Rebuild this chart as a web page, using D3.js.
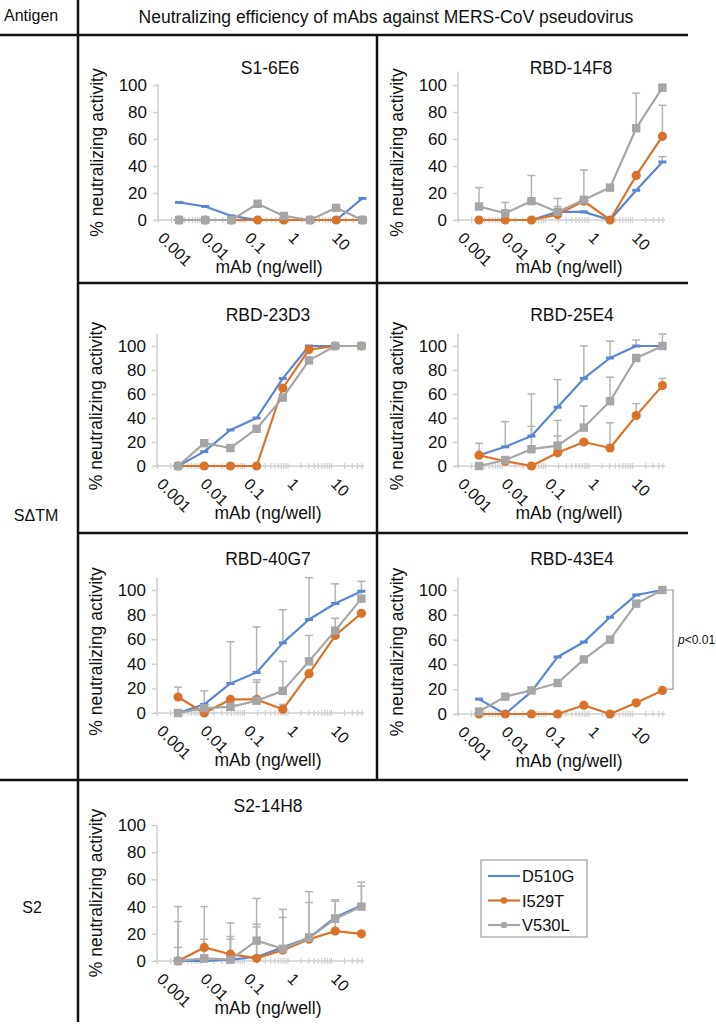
<!DOCTYPE html>
<html><head><meta charset="utf-8">
<script src="https://cdn.jsdelivr.net/npm/d3@7"></script>
<style>
body{margin:0;background:#fff}
svg{display:block}
text{font-family:"Liberation Sans",Arial,sans-serif;fill:#111}
</style>
</head><body>
<svg id="c" width="716" height="1031"></svg>
<script>
// ---------- data ----------
const doses = [0.00305, 0.0122, 0.0488, 0.195, 0.781, 3.125, 12.5, 50];
const seriesNames = ["D510G", "I529T", "V530L"];
const xTickLabels = [0.001, 0.01, 0.1, 1, 10];
const yTickValues = [0, 20, 40, 60, 80, 100];
const panelTitles = ["S1-6E6", "RBD-14F8", "RBD-23D3", "RBD-25E4", "RBD-40G7", "RBD-43E4", "S2-14H8"];
const antigenLabels = ["SΔTM", "S2"];

// mean % neutralizing activity [D510G, I529T, V530L]
const mean_S1_6E6  = [[13, 10, 3, 0, 0, 0, 0, 16], [0, 0, 0, 0, 0, 0, 0, 0], [0, 0, 0, 12, 3, 0, 9, 0]];
const mean_RBD14F8 = [[0, 0, 0, 6, 6, 0, 22, 43], [0, 0, 0, 4, 14, 0, 33, 62], [10, 5, 14, 6, 15, 24, 68, 98]];
const mean_RBD23D3 = [[0, 12, 30, 40, 73, 100, 100, 100], [0, 0, 0, 0, 65, 97, 100, 100], [0, 19, 15, 31, 57, 88, 100, 100]];
const mean_RBD25E4 = [[9, 16, 25, 49, 73, 90, 100, 100], [9, 4, 0, 11, 20, 15, 42, 67], [0, 5, 14, 17, 32, 54, 90, 100]];
const mean_RBD40G7 = [[0, 7, 24, 33, 57, 76, 89, 99], [13, 0, 11, 11, 3, 32, 63, 81], [0, 4, 5, 10, 18, 42, 67, 93]];
const mean_RBD43E4 = [[12, 0, 18, 46, 58, 78, 96, 100], [0, 0, 0, 0, 7, 0, 9, 19], [2, 14, 19, 25, 44, 60, 89, 100]];
const mean_S2_14H8 = [[0, 0, 1, 3, 10, 17, 32, 41], [0, 10, 5, 2, 8, 16, 22, 20], [0, 2, 1, 15, 9, 17, 31, 40]];

// upper error (SD) [D510G, I529T, V530L]; 0 = none drawn
const sd_S1_6E6  = [[0, 0, 0, 0, 0, 0, 0, 0], [0, 0, 0, 0, 0, 0, 0, 0], [0, 0, 0, 0, 0, 0, 0, 0]];
const sd_RBD14F8 = [[0, 0, 0, 4, 0, 0, 0, 4], [0, 0, 0, 0, 0, 0, 0, 23], [14, 8, 19, 10, 22, 0, 26, 0]];
const sd_RBD23D3 = [[0, 0, 0, 0, 0, 0, 0, 0], [0, 0, 0, 0, 0, 0, 0, 0], [0, 0, 0, 0, 0, 0, 0, 0]];
const sd_RBD25E4 = [[10, 21, 35, 23, 27, 14, 5, 10], [0, 0, 0, 14, 0, 21, 10, 6], [0, 0, 19, 21, 18, 20, 0, 0]];
const sd_RBD40G7 = [[0, 0, 34, 37, 27, 34, 16, 0], [8, 0, 0, 14, 4, 0, 0, 0], [0, 14, 0, 17, 24, 21, 10, 14]];
const sd_RBD43E4 = [[0, 0, 0, 0, 0, 0, 0, 0], [0, 0, 0, 0, 0, 0, 0, 0], [0, 0, 0, 0, 0, 0, 0, 0]];
const sd_S2_14H8 = [[29, 16, 15, 22, 22, 26, 12, 14], [10, 30, 13, 25, 0, 4, 12, 0], [40, 0, 27, 31, 29, 34, 14, 18]];

const pAnnot = {text: "p<0.01", from: 100, to: 20};

// ---------- layout ----------
const colors = ["#5a86d2", "#d9732c", "#a6a6a6"];
const errColor = "#b3b3b3";
const axisColor = "#cfcfcf";
const xLen = 207, decade = 43.5;

const panels = [
  {mean: mean_S1_6E6,  sd: sd_S1_6E6,  ax: 158, y0: 220, y100: 85,  ymax: 101, tx: 270, ty: 74},
  {mean: mean_RBD14F8, sd: sd_RBD14F8, ax: 458, y0: 220, y100: 85,  ymax: 110, tx: 571, ty: 74},
  {mean: mean_RBD23D3, sd: sd_RBD23D3, ax: 157, y0: 466, y100: 346, ymax: 110, tx: 268, ty: 321},
  {mean: mean_RBD25E4, sd: sd_RBD25E4, ax: 458, y0: 466, y100: 346, ymax: 110, tx: 572, ty: 321},
  {mean: mean_RBD40G7, sd: sd_RBD40G7, ax: 157, y0: 713, y100: 590, ymax: 110, tx: 268, ty: 565},
  {mean: mean_RBD43E4, sd: sd_RBD43E4, ax: 458, y0: 714, y100: 590, ymax: 110, tx: 572, ty: 565},
  {mean: mean_S2_14H8, sd: sd_S2_14H8, ax: 157, y0: 961, y100: 825, ymax: 100, tx: 268, ty: 812}
];

const svg = d3.select("#c");

// ---------- table frame ----------
const frame = svg.append("g").attr("stroke", "#111").attr("stroke-width", 2.5);
frame.append("line").attr("x1", 78).attr("x2", 78).attr("y1", 0).attr("y2", 1022);
frame.append("line").attr("x1", 0).attr("x2", 688).attr("y1", 35).attr("y2", 35);
frame.append("line").attr("x1", 78).attr("x2", 688).attr("y1", 283).attr("y2", 283);
frame.append("line").attr("x1", 78).attr("x2", 688).attr("y1", 533).attr("y2", 533);
frame.append("line").attr("x1", 0).attr("x2", 688).attr("y1", 780).attr("y2", 780);
frame.append("line").attr("x1", 377).attr("x2", 377).attr("y1", 35).attr("y2", 780);

svg.append("text").attr("x", 4).attr("y", 21).attr("font-size", 16).text("Antigen");
svg.append("text").attr("x", 386).attr("y", 23).attr("font-size", 17.5).attr("text-anchor", "middle")
  .text("Neutralizing efficiency of mAbs against MERS-CoV pseudovirus");
svg.append("text").attr("x", 36).attr("y", 521).attr("font-size", 16).attr("text-anchor", "middle").text(antigenLabels[0]);
svg.append("text").attr("x", 32).attr("y", 913).attr("font-size", 16).attr("text-anchor", "middle").text(antigenLabels[1]);

// ---------- panels ----------
const minorTicks = [];
[-3, -2, -1, 0, 1].forEach(e => { for (let k = 1; k <= 9; k++) { const v = k * Math.pow(10, e); if (v <= 57) minorTicks.push(v); } });
const xMax = 0.001 * Math.pow(10, xLen / decade);

panels.forEach((p, pi) => {
  const g = svg.append("g");
  const x = d3.scaleLog().domain([0.001, xMax]).range([p.ax, p.ax + xLen]);
  const y = d3.scaleLinear().domain([0, 100]).range([p.y0, p.y100]);

  // y axis
  const yAx = g.append("g").attr("transform", `translate(${p.ax},0)`)
    .call(d3.axisLeft(y).tickValues(yTickValues).tickSize(5).tickPadding(6));
  yAx.select(".domain").remove();
  yAx.append("line").attr("x1", 0).attr("x2", 0).attr("y1", y(0)).attr("y2", y(p.ymax))
    .attr("stroke", axisColor).attr("stroke-width", 1.5);
  yAx.selectAll(".tick line").attr("stroke", axisColor).attr("stroke-width", 1.5);
  yAx.selectAll(".tick text").attr("font-size", 17).attr("fill", "#111")
    .attr("font-family", "Liberation Sans, Arial, sans-serif");

  // x axis (minor ticks)
  const xAx = g.append("g").attr("transform", `translate(0,${p.y0})`)
    .call(d3.axisBottom(x).tickValues(minorTicks).tickSizeInner(3).tickSizeOuter(0).tickFormat(""));
  xAx.select(".domain").remove();
  xAx.append("line").attr("x1", p.ax - 3).attr("x2", p.ax + xLen).attr("y1", 0).attr("y2", 0)
    .attr("stroke", axisColor).attr("stroke-width", 1.5);
  xAx.selectAll(".tick line").attr("stroke", axisColor).attr("stroke-width", 1.2).attr("y1", -3);

  // rotated x labels
  g.selectAll(".xl").data(xTickLabels).join("text")
    .attr("font-size", 16)
    .attr("transform", d => `translate(${x(d) - 1},${p.y0 + 19}) rotate(45)`)
    .text(d => String(d));

  // axis titles
  g.append("text").attr("font-size", 17.5).attr("text-anchor", "middle")
    .attr("transform", `translate(${p.ax - 55},${(p.y0 + p.y100) / 2}) rotate(-90)`)
    .text("% neutralizing activity");
  g.append("text").attr("font-size", 17.5).attr("text-anchor", "middle")
    .attr("x", p.ax + 111).attr("y", p.y0 + 53).text("mAb (ng/well)");
  g.append("text").attr("font-size", 17.5).attr("text-anchor", "middle")
    .attr("x", p.tx).attr("y", p.ty).text(panelTitles[pi]);

  // error bars
  p.mean.forEach((vals, si) => {
    const eg = g.append("g").attr("stroke", errColor).attr("stroke-width", 1.5);
    vals.forEach((v, i) => {
      const e = p.sd[si][i];
      if (!e) return;
      const cx = x(doses[i]);
      eg.append("line").attr("x1", cx).attr("x2", cx).attr("y1", y(v)).attr("y2", y(v + e));
      eg.append("line").attr("x1", cx - 4).attr("x2", cx + 4).attr("y1", y(v + e)).attr("y2", y(v + e));
    });
  });

  // lines + markers
  const line = d3.line().x((d, i) => x(doses[i])).y(d => y(d));
  p.mean.forEach((vals, si) => {
    g.append("path").attr("d", line(vals)).attr("fill", "none")
      .attr("stroke", colors[si]).attr("stroke-width", 2.2).attr("stroke-linejoin", "round");
    const mg = g.append("g").attr("fill", colors[si]);
    vals.forEach((v, i) => {
      const cx = x(doses[i]), cy = y(v);
      if (si === 0) mg.append("rect").attr("x", cx - 4).attr("y", cy - 1.5).attr("width", 8).attr("height", 3);
      else if (si === 1) mg.append("circle").attr("cx", cx).attr("cy", cy).attr("r", 4.6);
      else mg.append("rect").attr("x", cx - 4.2).attr("y", cy - 4.2).attr("width", 8.4).attr("height", 8.4);
    });
  });

  // p-value bracket on RBD-43E4
  if (pi === 5) {
    const bx = 673;
    const bg = g.append("g").attr("stroke", "#999").attr("stroke-width", 1.2).attr("fill", "none");
    bg.append("path").attr("d", `M${bx - 6},${y(pAnnot.from)}H${bx}V${y(pAnnot.to)}H${bx - 6}`);
    const t = g.append("text").attr("x", bx + 5).attr("y", (y(pAnnot.from) + y(pAnnot.to)) / 2 + 4).attr("font-size", 12);
    t.append("tspan").attr("font-style", "italic").text("p");
    t.append("tspan").text(pAnnot.text.slice(1));
  }
});

// ---------- legend ----------
const lg = svg.append("g");
lg.append("rect").attr("x", 481).attr("y", 860).attr("width", 106).attr("height", 77)
  .attr("fill", "#fff").attr("stroke", "#8a8a8a").attr("stroke-width", 1);
seriesNames.forEach((n, i) => {
  const ly = 876 + i * 24.5;
  lg.append("line").attr("x1", 488).attr("x2", 520).attr("y1", ly).attr("y2", ly)
    .attr("stroke", colors[i]).attr("stroke-width", 2.2);
  if (i > 0) lg.append("circle").attr("cx", 504).attr("cy", ly).attr("r", 3.2).attr("fill", colors[i]);
  lg.append("text").attr("x", 522).attr("y", ly + 6).attr("font-size", 16.5).text(n);
});
</script>
</body></html>
